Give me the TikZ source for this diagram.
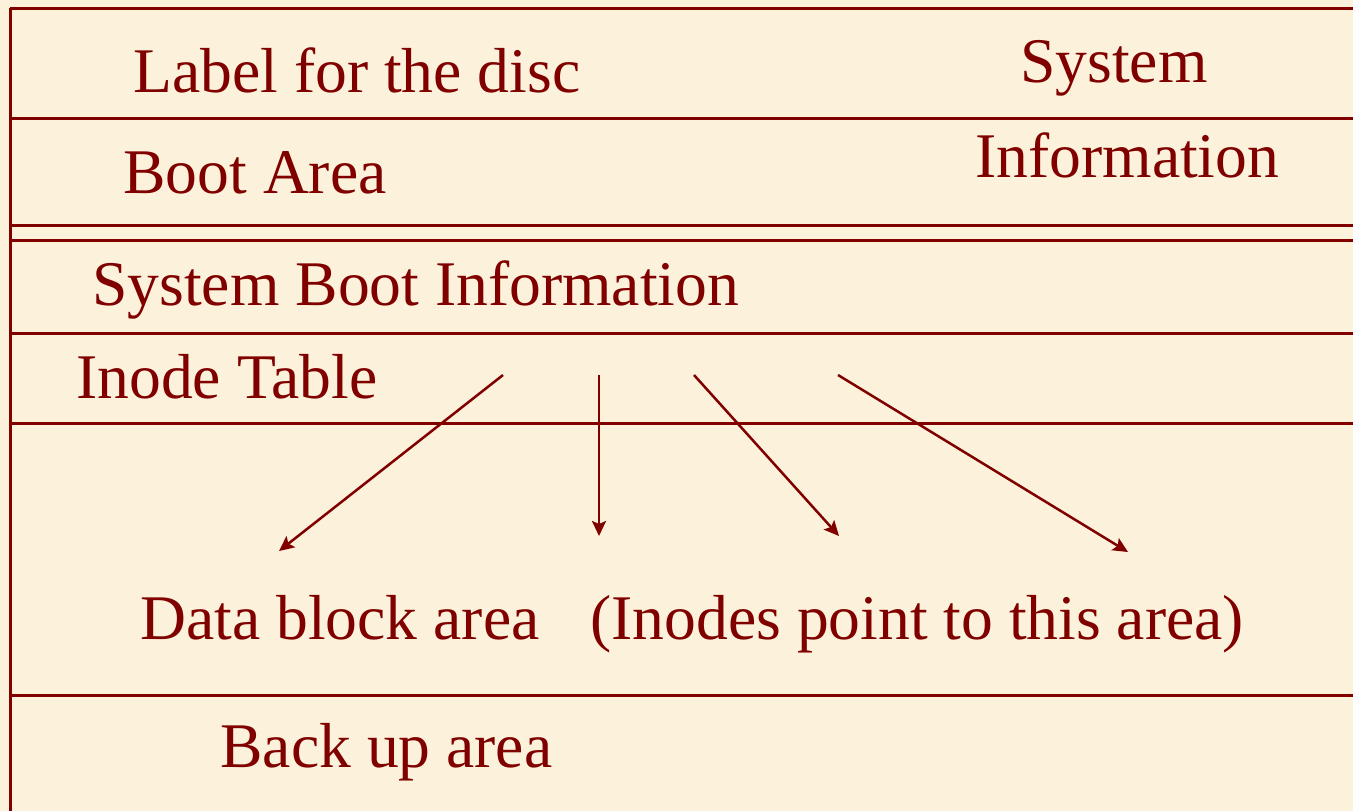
\documentclass[tikz,border=0pt]{standalone}
\usepackage{fontspec}
\setmainfont{Liberation Serif}
\usetikzlibrary{arrows.meta}
\definecolor{paper}{RGB}{252,242,219}
\definecolor{ink}{RGB}{128,0,0}
\tikzset{
  rule/.style={draw=ink, line width=1.5pt},
  lbl/.style={anchor=base west, inner sep=0pt, text=ink,
    font=\fontsize{31.8}{38}\selectfont},
  ptr/.style={draw=ink, line width=1.25pt, -{Stealth[length=7.5pt,width=7pt,inset=1.5pt]}}
}
\begin{document}
\begin{tikzpicture}[x=0.5pt, y=-0.5pt]
  % canvas
  \fill[paper] (0,0) rectangle (1353,811);
  \useasboundingbox (0,0) rectangle (1353,811);

  % disc layout: left border and region boundaries
  \draw[rule] (10,8) -- (10,811);
  \foreach \y in {8,118,225,240,333,423,695}
    \draw[rule] (10,\y) -- (1353,\y);

  % region labels
  \node[lbl] (disc)  at (133,92)  {Label for the disc};
  \node[lbl] (sys)   at (1020,82) {System};
  \node[lbl] (info)  at (975,177) {Information};
  \node[lbl] (boot)  at (123,193) {Boot Area};
  \node[lbl] (sbi)   at (92,305)  {System Boot Information};
  \node[lbl] (inode) at (76,398)  {Inode Table};
  \node[lbl] (data)  at (140,639) {Data block area};
  \node[lbl] (note)  at (590,639) {(Inodes point to this area)};
  \node[lbl] (back)  at (220,767) {Back up area};

  % inode pointers into the data block area
  \coordinate (p1) at (503,375);
  \coordinate (p2) at (599,375);
  \coordinate (p3) at (694,375);
  \coordinate (p4) at (838,375);
  \coordinate (t1) at (279,551);
  \coordinate (t2) at (599,536);
  \coordinate (t3) at (839,536);
  \coordinate (t4) at (1128,552);
  \draw[ptr] (p1) -- (t1);
  \draw[ptr] (p2) -- (t2);
  \draw[ptr] (p3) -- (t3);
  \draw[ptr] (p4) -- (t4);
\end{tikzpicture}
\end{document}
